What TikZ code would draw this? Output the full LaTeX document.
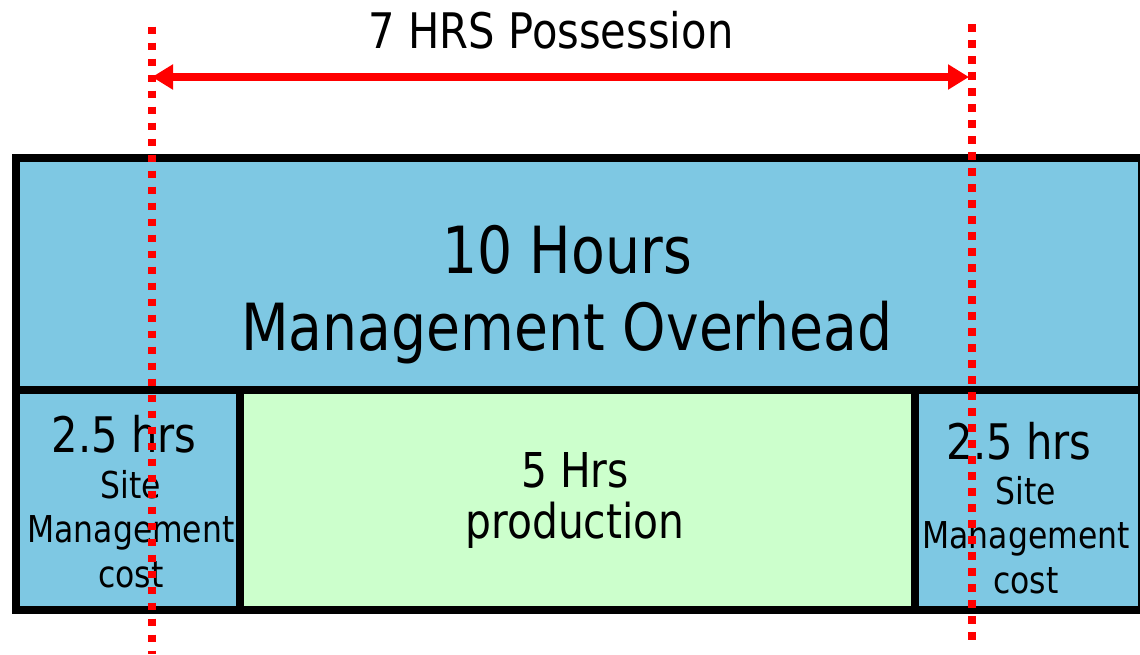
\documentclass[tikz,border=0pt]{standalone}
\usepackage{fontspec}
\setmainfont{DejaVu Sans}[FakeStretch=0.85]
\usetikzlibrary{arrows.meta}
\definecolor{mgmtblue}{HTML}{7EC8E3}
\definecolor{prodgreen}{HTML}{CCFFCC}
\tikzset{
block/.style={draw,line width=7.5pt,fill=mgmtblue,minimum height=220pt,inner sep=0pt},
limit/.style={red,line width=7.5pt,dash pattern=on 7.5pt off 8.5pt},
span/.style={{Triangle[length=21pt,width=24pt]}-{Triangle[length=21pt,width=24pt]},red,line width=8pt},
txt/.style={anchor=base,align=center,inner sep=0pt}
}

\begin{document}
\begin{tikzpicture}[x=1pt,y=-1pt]
\useasboundingbox (0,0) rectangle (1140,654);
% overhead band and the three lower blocks
\node[block,minimum width=1125.5pt,minimum height=232pt](overhead) at (578.5,274){};
\node[block,minimum width=224pt](siteL) at (128,500){};
\node[block,fill=prodgreen,minimum width=675pt](prod) at (577.5,500){};
\node[block,minimum width=226.5pt](siteR) at (1028.25,500){};
% labels (base = baseline of the last line)
\node[txt,font=\fontsize{49}{50}\selectfont](title) at (551,48){7 HRS Possession};
\node[txt,font=\fontsize{65}{77}\selectfont](ohtxt) at (567,350){10 Hours\\Management Overhead};
\node[txt,font=\fontsize{48}{51}\selectfont](prodtxt) at (575,538){5 Hrs\\production};
\node[txt,font=\fontsize{49}{50}\selectfont](hrsL) at (124,452){2.5 hrs};
\node[txt,font=\fontsize{37}{44.5}\selectfont](costL) at (131,587){Site\\Management\\cost};
\node[txt,font=\fontsize{49}{50}\selectfont](hrsR) at (1019,459){2.5 hrs};
\node[txt,font=\fontsize{37}{44.5}\selectfont](costR) at (1026,593){Site\\Management\\cost};
% possession limits
\coordinate(lTop) at (152,26.7);\coordinate(lBot) at (152,654);
\coordinate(rTop) at (972,24.3);\coordinate(rBot) at (972,640);
\coordinate(lMid) at (152,77);\coordinate(rMid) at (969,77);
\draw[span](lMid)--(rMid);
\draw[limit](lTop)--(lBot);\draw[limit](rTop)--(rBot);
\end{tikzpicture}
\end{document}
